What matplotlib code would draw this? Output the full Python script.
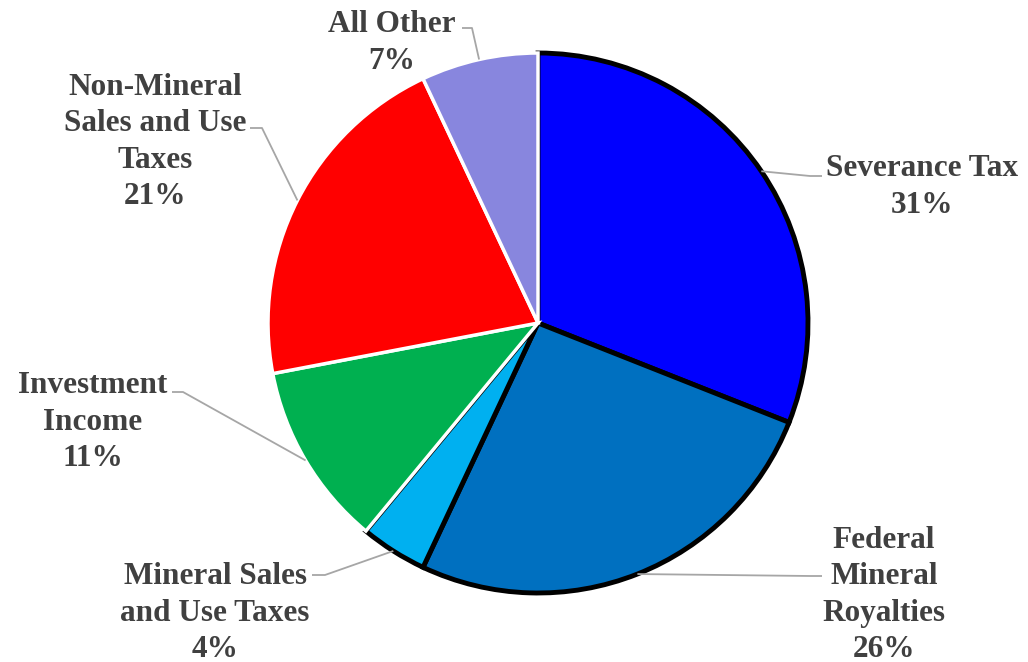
import numpy as np
import matplotlib.pyplot as plt

labels = ['Severance Tax', 'Federal\nMineral\nRoyalties', 'Mineral Sales\nand Use Taxes',
          'Investment\nIncome', 'Non-Mineral\nSales and Use\nTaxes', 'All Other']
values = [31, 26, 4, 11, 21, 7]
colors = ['#0000FF', '#0070C0', '#00B0F0', '#00B050', '#FF0000', '#8886DE']
edges = ['black', 'black', 'black', 'white', 'white', 'white']

# label layout in pixels: text centre, elbow point, end of horizontal stub
text_pos = [(922, 187), (884, 595), (215, 613), (93, 422), (155, 142), (392, 43)]
elbows = [(810, 176), (810, 576), (325, 575), (183, 392), (262, 128), (472, 28)]
stubs = [(822, 176), (822, 576), (312, 575), (172, 392), (250, 128), (462, 28)]

W, H = 1028, 662
cx, cy, R = 538, 323, 270


def px(p):
    return ((p[0] - cx) / R, (cy - p[1]) / R)


fig = plt.figure(figsize=(W / 100, H / 100), dpi=100)
ax = fig.add_axes([0, 0, 1, 1])

wedges, _ = ax.pie(values, colors=colors, startangle=90, counterclock=False,
                   radius=1, center=(0, 0), frame=True)
for w, ec in zip(wedges, edges):
    w.set_edgecolor(ec)
    w.set_linewidth(3.5 if ec == 'black' else 2.5)
ax.set_xlim(-cx / R, (W - cx) / R)
ax.set_ylim((cy - H) / R, cy / R)
ax.set_aspect('auto')
ax.axis('off')

total = sum(values)
start = 90.0
for i, v in enumerate(values):
    mid = np.deg2rad(start - v / total * 360 / 2)
    start -= v / total * 360
    a = (np.cos(mid), np.sin(mid))
    e = px(elbows[i])
    s = px(stubs[i])
    ax.plot([a[0], e[0], s[0]], [a[1], e[1], s[1]], color='#A6A6A6', lw=1.3,
            zorder=1, solid_capstyle='butt')
    t = px(text_pos[i])
    ax.text(t[0], t[1], f'{labels[i]}\n{v}%', ha='center', va='center',
            fontsize=22.5, fontweight='bold', family='Liberation Serif',
            color='#404040', linespacing=1.32)

fig.savefig('out.png', dpi=100)
